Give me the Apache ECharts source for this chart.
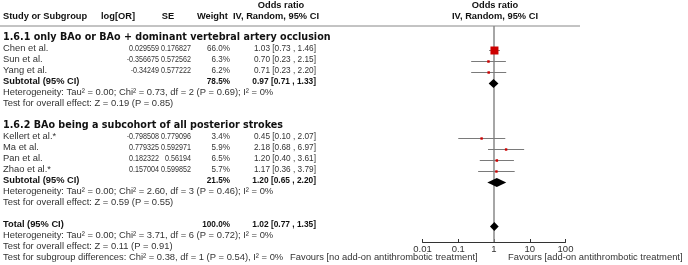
<!DOCTYPE html>
<html>
<head>
<meta charset="utf-8">
<script src="https://cdn.jsdelivr.net/npm/echarts@6/dist/echarts.min.js"></script>
<style>
html,body{margin:0;padding:0;background:#fff}
#main{width:688px;height:265px}
</style>
</head>
<body>
<div id="main"></div>
<script>
// studies
var studyNames = ['Chen et al.', 'Sun et al.', 'Yang et al.', 'Kellert et al.*', 'Ma et al.', 'Pan et al.', 'Zhao et al.*'];
var studyRows = [0, 1, 2, 8, 9, 10, 11];
var logOR = [0.029559, -0.356675, -0.34249, -0.798508, 0.779325, 0.182322, 0.157004];
var se = [0.176827, 0.572562, 0.577222, 0.779096, 0.592971, 0.56194, 0.599852];
var weight = [66.0, 6.3, 6.2, 3.4, 5.9, 6.5, 5.7];
var oddsRatio = [1.03, 0.70, 0.71, 0.45, 2.18, 1.20, 1.17];
var ciLow = [0.73, 0.23, 0.23, 0.10, 0.68, 0.40, 0.36];
var ciHigh = [1.46, 2.15, 2.20, 2.07, 6.97, 3.61, 3.79];

// pooled estimates
var poolNames = ['Subtotal (95% CI)', 'Subtotal (95% CI)', 'Total (95% CI)'];
var poolRows = [3, 12, 16];
var poolWeight = [78.5, 21.5, 100.0];
var poolOR = [0.97, 1.20, 1.02];
var poolLow = [0.71, 0.65, 0.77];
var poolHigh = [1.33, 2.20, 1.35];

var headings = ['1.6.1 only BAo or BAo + dominant vertebral artery occlusion', '1.6.2 BAo being a subcohort of all posterior strokes'];
var headingRows = [-1, 7];

var statLines = [
  'Heterogeneity: Tau\u00b2 = 0.00; Chi\u00b2 = 0.73, df = 2 (P = 0.69); I\u00b2 = 0%',
  'Test for overall effect: Z = 0.19 (P = 0.85)',
  'Heterogeneity: Tau\u00b2 = 0.00; Chi\u00b2 = 2.60, df = 3 (P = 0.46); I\u00b2 = 0%',
  'Test for overall effect: Z = 0.59 (P = 0.55)',
  'Heterogeneity: Tau\u00b2 = 0.00; Chi\u00b2 = 3.71, df = 6 (P = 0.72); I\u00b2 = 0%',
  'Test for overall effect: Z = 0.11 (P = 0.91)',
  'Test for subgroup differences: Chi\u00b2 = 0.38, df = 1 (P = 0.54), I\u00b2 = 0%'
];
var statRows = [4, 5, 13, 14, 17, 18, 19];

var favourLeft = 'Favours [no add-on antithrombotic treatment]';
var favourRight = 'Favours [add-on antithrombotic treatment]';

var chart = echarts.init(document.getElementById('main'));

var FONT = '9.4px "Liberation Sans", Arial, sans-serif';
var NUM = '9.2px "Liberation Sans", Arial, sans-serif';
var BOLD = 'bold 9.3px "Liberation Sans", Arial, sans-serif';
var HEAD = 'bold 9.6px "DejaVu Sans", sans-serif';
var TXT = '#333';
var rowTop = 50.5, rowH = 11;
function textY(r){ return rowTop + rowH * r - 2; }

// text element; sx squeezes digit columns horizontally around the anchor
function txt(s, x, y, align, font, sx){
  var bold = (font === BOLD || font === HEAD);
  return {type: 'text', silent: true, x: x, y: y, scaleX: sx || 1,
    style: {text: s, x: 0, y: 0, font: font || FONT,
      fill: bold ? '#111' : TXT, align: align || 'left', verticalAlign: 'middle'}};
}
function ciText(o, l, h){ return o.toFixed(2) + ' [' + l.toFixed(2) + ' , ' + h.toFixed(2) + ']'; }

var g = [];
// header
g.push(txt('Odds ratio', 281, 5, 'center', BOLD));
g.push(txt('Odds ratio', 495, 5, 'center', BOLD));
g.push(txt('Study or Subgroup', 3, 16, 'left', BOLD));
g.push(txt('log[OR]', 101, 16, 'left', BOLD));
g.push(txt('SE', 168, 16, 'center', BOLD));
g.push(txt('Weight', 197, 16, 'left', BOLD));
g.push(txt('IV, Random, 95% CI', 276, 16, 'center', BOLD));
g.push(txt('IV, Random, 95% CI', 495, 16, 'center', BOLD));
g.push({type: 'line', silent: true, shape: {x1: 0, y1: 26, x2: 580, y2: 26}, style: {stroke: '#888', lineWidth: 1}});

for (var i = 0; i < headings.length; i++) g.push(txt(headings[i], 3, textY(headingRows[i]), 'left', HEAD));
for (i = 0; i < studyNames.length; i++) {
  var y = textY(studyRows[i]);
  g.push(txt(studyNames[i], 3, y));
  g.push(txt(String(logOR[i]), 159, y, 'right', NUM, 0.78));
  g.push(txt(String(se[i]), 191, y, 'right', NUM, 0.78));
  g.push(txt(weight[i].toFixed(1) + '%', 230, y, 'right', NUM, 0.88));
  g.push(txt(ciText(oddsRatio[i], ciLow[i], ciHigh[i]), 316, y, 'right', NUM, 0.9));
}
for (i = 0; i < poolNames.length; i++) {
  y = textY(poolRows[i]);
  g.push(txt(poolNames[i], 3, y, 'left', BOLD));
  g.push(txt(poolWeight[i].toFixed(1) + '%', 230, y, 'right', BOLD, 0.88));
  g.push(txt(ciText(poolOR[i], poolLow[i], poolHigh[i]), 316, y, 'right', BOLD, 0.9));
}
for (i = 0; i < statLines.length; i++) g.push(txt(statLines[i], 3, textY(statRows[i])));
g.push(txt(favourLeft, 290, textY(19), 'left'));
g.push(txt(favourRight, 508, textY(19), 'left'));

var gridTop = 26, gridH = 216;
var yMin = (gridTop - rowTop) / rowH;
var yMax = (gridTop + gridH - rowTop) / rowH;

var studyData = [], poolData = [];
for (i = 0; i < studyNames.length; i++) studyData.push([ciLow[i], ciHigh[i], studyRows[i], oddsRatio[i], weight[i]]);
for (i = 0; i < poolNames.length; i++) poolData.push([poolLow[i], poolHigh[i], poolRows[i], poolOR[i], poolWeight[i]]);

option = {
  animation: false,
  graphic: g,
  grid: {left: 422.5, width: 143, top: gridTop, height: gridH},
  xAxis: {
    type: 'log', logBase: 10, min: 0.01, max: 100,
    axisLine: {onZero: false, lineStyle: {color: '#333', width: 1}},
    axisTick: {inside: true, length: 3, lineStyle: {color: '#333'}},
    axisLabel: {margin: 2, fontSize: 9.5, color: TXT, fontFamily: 'Liberation Sans',
      formatter: function(v){ return String(+v.toPrecision(2)); }},
    splitLine: {show: false}
  },
  yAxis: {type: 'value', min: yMin, max: yMax, inverse: true, show: false},
  series: [
    {
      type: 'line', name: 'null', data: [], z: 1,
      markLine: {
        silent: true, symbol: 'none', z: 1, label: {show: false},
        lineStyle: {color: '#888', width: 1.5, type: 'solid'},
        data: [{xAxis: 1}]
      }
    },
    {
      type: 'custom', name: 'studies', data: studyData, z: 3,
      encode: {x: [0, 1, 3], y: 2},
      renderItem: function(params, api){
        var a = api.coord([api.value(0), api.value(2)]);
        var b = api.coord([api.value(1), api.value(2)]);
        var c = api.coord([api.value(3), api.value(2)]);
        var s = Math.max(2.4, 8 * Math.sqrt(api.value(4) / 66));
        return {type: 'group', children: [
          {type: 'line', shape: {x1: a[0], y1: a[1], x2: b[0], y2: b[1]}, style: {stroke: '#7a7a7a', lineWidth: 1}},
          {type: 'rect', shape: {x: c[0] - s / 2, y: c[1] - s / 2, width: s, height: s}, style: {fill: '#cc0000'}}
        ]};
      }
    },
    {
      type: 'custom', name: 'pooled', data: poolData, z: 4,
      encode: {x: [0, 1, 3], y: 2},
      renderItem: function(params, api){
        var a = api.coord([api.value(0), api.value(2)]);
        var b = api.coord([api.value(1), api.value(2)]);
        var c = api.coord([api.value(3), api.value(2)]);
        var h = 4.5;
        return {type: 'polygon', shape: {points: [[a[0], a[1]], [c[0], c[1] - h], [b[0], b[1]], [c[0], c[1] + h]]},
          style: {fill: '#000'}};
      }
    }
  ]
};
chart.setOption(option);
</script>
</body>
</html>
